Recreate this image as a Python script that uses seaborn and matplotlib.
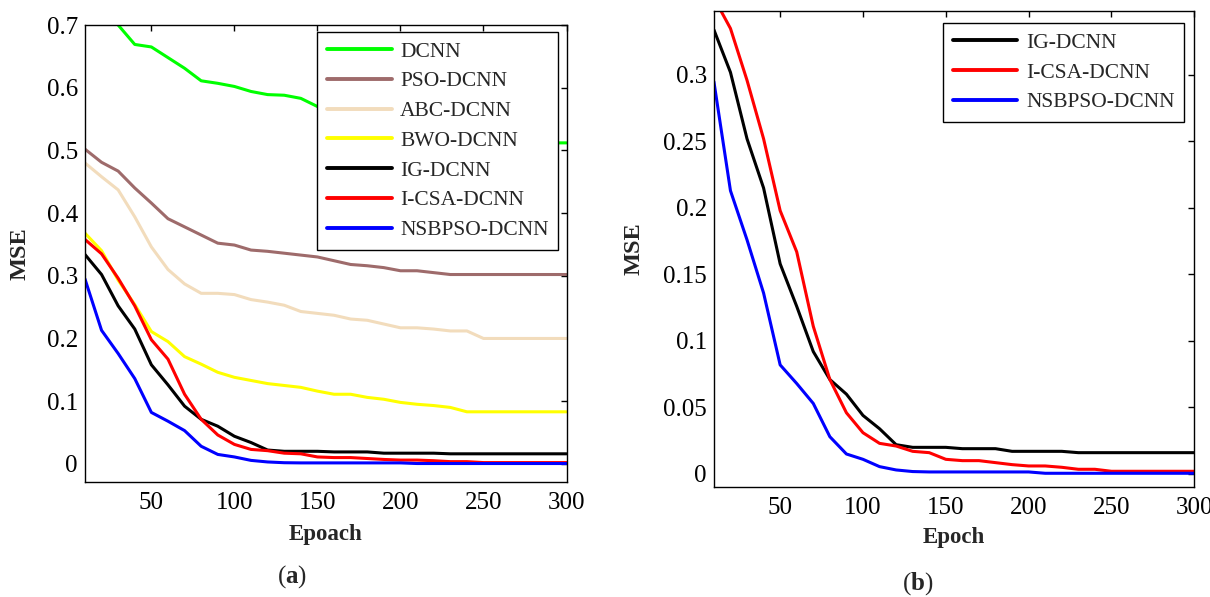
import numpy as np
import pandas as pd
# MSE 수렴 곡선 비교 (a) 전체 모델, (b) 상위 3개 모델
import matplotlib
matplotlib.use('Agg')
import matplotlib.pyplot as plt
import seaborn as sns
from matplotlib.ticker import FuncFormatter

# 에폭 (10 단위)
epochs = [10, 20, 30, 40, 50, 60, 70, 80, 90, 100,
          110, 120, 130, 140, 150, 160, 170, 180, 190, 200,
          210, 220, 230, 240, 250, 260, 270, 280, 290, 300]

# 모델별 MSE 값
dcnn = [0.760, 0.730, 0.700, 0.669, 0.665, 0.648, 0.631, 0.611, 0.607, 0.602,
        0.594, 0.589, 0.588, 0.583, 0.570, 0.566, 0.561, 0.556, 0.551, 0.546,
        0.541, 0.536, 0.531, 0.526, 0.521, 0.517, 0.514, 0.512, 0.512, 0.512]
pso_dcnn = [0.502, 0.481, 0.467, 0.440, 0.416, 0.391, 0.378, 0.365, 0.352, 0.349,
            0.341, 0.339, 0.336, 0.333, 0.330, 0.324, 0.318, 0.316, 0.313, 0.308,
            0.308, 0.305, 0.302, 0.302, 0.302, 0.302, 0.302, 0.302, 0.302, 0.302]
abc_dcnn = [0.480, 0.458, 0.437, 0.394, 0.346, 0.310, 0.287, 0.272, 0.272, 0.270,
            0.262, 0.258, 0.253, 0.243, 0.240, 0.237, 0.231, 0.229, 0.223, 0.217,
            0.217, 0.215, 0.212, 0.212, 0.200, 0.200, 0.200, 0.200, 0.200, 0.200]
bwo_dcnn = [0.368, 0.340, 0.293, 0.254, 0.211, 0.195, 0.171, 0.159, 0.146, 0.138,
            0.133, 0.128, 0.125, 0.122, 0.116, 0.111, 0.111, 0.106, 0.103, 0.098,
            0.095, 0.093, 0.090, 0.083, 0.083, 0.083, 0.083, 0.083, 0.083, 0.083]
ig_dcnn = [0.334, 0.302, 0.252, 0.215, 0.158, 0.126, 0.092, 0.071, 0.060, 0.044,
           0.034, 0.022, 0.020, 0.020, 0.020, 0.019, 0.019, 0.019, 0.017, 0.017,
           0.017, 0.017, 0.016, 0.016, 0.016, 0.016, 0.016, 0.016, 0.016, 0.016]
icsa_dcnn = [0.358, 0.335, 0.296, 0.252, 0.198, 0.167, 0.111, 0.071, 0.046, 0.031,
             0.023, 0.021, 0.017, 0.016, 0.011, 0.010, 0.010, 0.0085, 0.007, 0.006,
             0.006, 0.005, 0.0035, 0.0035, 0.002, 0.002, 0.002, 0.002, 0.002, 0.002]
nsbpso_dcnn = [0.295, 0.213, 0.176, 0.136, 0.082, 0.068, 0.053, 0.028, 0.015, 0.011,
               0.0055, 0.003, 0.0018, 0.0015, 0.0015, 0.0015, 0.0015, 0.0015, 0.0015, 0.0015,
               0.0005, 0.0005, 0.0005, 0.0005, 0.0005, 0.0005, 0.0005, 0.0005, 0.0005, 0.0005]

names_a = ['DCNN', 'PSO-DCNN', 'ABC-DCNN', 'BWO-DCNN', 'IG-DCNN', 'I-CSA-DCNN', 'NSBPSO-DCNN']
values_a = [dcnn, pso_dcnn, abc_dcnn, bwo_dcnn, ig_dcnn, icsa_dcnn, nsbpso_dcnn]
colors_a = ['#00ff00', '#9e6b6b', '#f2dcbc', '#ffff00', '#000000', '#ff0000', '#0000ff']

names_b = ['IG-DCNN', 'I-CSA-DCNN', 'NSBPSO-DCNN']
values_b = [ig_dcnn, icsa_dcnn, nsbpso_dcnn]
colors_b = ['#000000', '#ff0000', '#0000ff']

sns.set_style('white')
plt.rcParams['font.family'] = ['Liberation Serif', 'DejaVu Serif']
plt.rcParams['mathtext.fontset'] = 'custom'
plt.rcParams['mathtext.rm'] = 'Liberation Serif'
plt.rcParams['mathtext.bf'] = 'Liberation Serif:bold'

fig = plt.figure(figsize=(12.1, 5.97), dpi=100)
ax1 = fig.add_axes([0.0702, 0.1926, 0.398, 0.7655])
ax2 = fig.add_axes([0.590, 0.1843, 0.397, 0.797])


def draw(ax, names, values, colors):
    for name, vals, c in zip(names, values, colors):
        sns.lineplot(x=epochs, y=vals, color=c, linewidth=2.2, label=name, ax=ax)


def style(ax, ylim, yticks, xlabel, xlab_y, ylab_x, legend_anchor):
    ax.set_xlim(10, 300)
    ax.set_ylim(*ylim)
    ax.set_xticks([50, 100, 150, 200, 250, 300])
    ax.set_yticks(yticks)
    ax.yaxis.set_major_formatter(FuncFormatter(lambda v, p: '%g' % round(v, 3)))
    ax.tick_params(direction='in', length=4, width=1, labelsize=18, colors='black',
                   top=True, right=True)
    ax.tick_params(axis='x', pad=7)
    ax.tick_params(axis='y', pad=5)
    for s in ax.spines.values():
        s.set_color('black')
        s.set_linewidth(1)
    ax.set_xlabel(xlabel, fontsize=16.5, fontweight='bold')
    ax.set_ylabel('MSE', fontsize=17.5, fontweight='bold')
    ax.xaxis.set_label_coords(0.5, xlab_y)
    ax.yaxis.set_label_coords(ylab_x, 0.5)
    leg = ax.legend(loc='upper right', bbox_to_anchor=legend_anchor, borderaxespad=0,
                    fontsize=15.5, frameon=True, fancybox=False, handlelength=3.0,
                    handletextpad=0.4, labelspacing=0.45, borderpad=0.45)
    leg.get_frame().set_edgecolor('black')
    leg.get_frame().set_linewidth(1)
    leg.get_frame().set_alpha(1)
    for ln in leg.get_lines():
        ln.set_linewidth(2.8)


draw(ax1, names_a, values_a, colors_a)
style(ax1, (-0.029, 0.7), [0, 0.1, 0.2, 0.3, 0.4, 0.5, 0.6, 0.7], 'Epoach',
      -0.092, -0.112, (0.983, 0.985))

draw(ax2, names_b, values_b, colors_b)
style(ax2, (-0.0098, 0.348), [0, 0.05, 0.1, 0.15, 0.2, 0.25, 0.3], 'Epoch',
      -0.084, -0.144, (0.979, 0.975))

fig.text(292 / 1210, 1 - 577 / 597, r'$(\mathbf{a})$', fontsize=18, ha='center', va='center')
fig.text(918 / 1210, 1 - 584 / 597, r'$(\mathbf{b})$', fontsize=18, ha='center', va='center')

fig.savefig('out.png', dpi=100)
